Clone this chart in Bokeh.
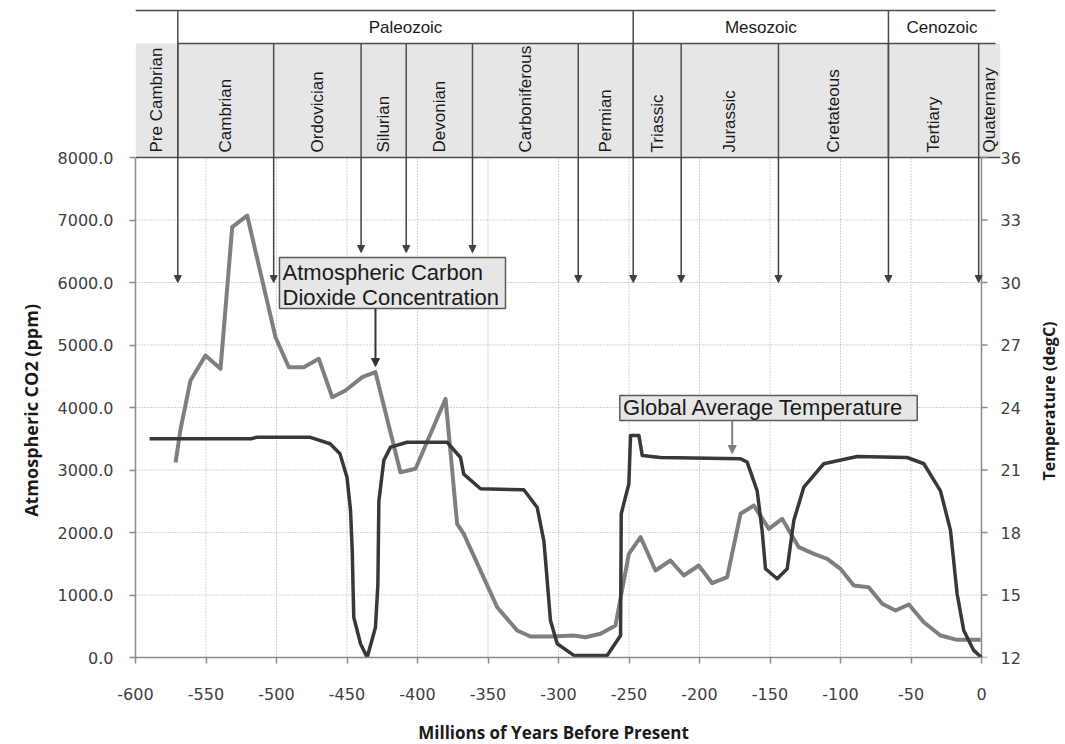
import math
from bokeh.plotting import figure
from bokeh.models import (Range1d, LinearAxis, FixedTicker, PrintfTickFormatter,
                          ColumnDataSource, Arrow, NormalHead)
from bokeh.core.properties import value
from bokeh.embed import file_html
from bokeh.resources import INLINE

# ---------------- data ----------------
co2_x = [-571.6, -568, -561, -550.4, -539.7, -531.4, -520.8, -500.7, -491.3, -480.6,
         -470, -460.5, -451.1, -439.2, -429.8, -412.1, -401.4, -380.1, -371.9, -367.2,
         -343.5, -329.3, -319.9, -305.7, -289.1, -280.9, -270.2, -259.6, -250.1, -241.8,
         -231.2, -220.6, -211.1, -200.5, -191, -180.4, -170.9, -161.5, -150.8, -141.4,
         -129.6, -118.9, -109.4, -100, -90.6, -80, -70.4, -61, -51.5, -40.9,
         -29.1, -17.3, -0.6]
co2_ppm = [3120, 3659, 4432, 4832, 4619, 6885, 7072, 5125, 4645, 4645,
           4779, 4165, 4272, 4485, 4565, 2965, 3019, 4139, 2139, 1979,
           805, 432, 336, 336, 352, 325, 379, 512, 1659, 1925,
           1392, 1552, 1312, 1472, 1189, 1285, 2299, 2432, 2059, 2219,
           1765, 1659, 1579, 1419, 1152, 1125, 859, 752, 848, 565,
           352, 283, 283]

temp_x = [-590, -518, -514, -476, -462, -455, -450, -447.5, -446.3, -445.2,
          -440.4, -435.7, -429.8, -428.1, -427.4, -423.9, -419.1, -407.3, -378.9, -369.5,
          -367.2, -355.3, -324.6, -315.1, -310.4, -309.2, -305.7, -300.9, -289.1, -265.5,
          -256, -255.5, -250.1, -248.9, -243, -240.6, -227.7, -170.9, -166.2, -159.1,
          -155.6, -153.2, -144.9, -137.8, -133.1, -126, -111.9, -88.2, -52.7, -40.9,
          -29.1, -22, -17.3, -12.6, -5.5, 0]
temp_c = [22.5, 22.5, 22.57, 22.57, 22.26, 21.78, 20.65, 19.06, 17.14, 13.93,
          12.66, 12.0, 13.45, 15.5, 19.5, 21.46, 22.1, 22.33, 22.33, 21.6,
          20.8, 20.1, 20.05, 19.2, 17.6, 16.66, 13.78, 12.66, 12.1, 12.1,
          13.06, 18.9, 20.34, 22.66, 22.66, 21.7, 21.6, 21.54, 21.38, 20.0,
          18.1, 16.26, 15.78, 16.26, 18.58, 20.18, 21.3, 21.65, 21.6, 21.3,
          20.0, 18.1, 15.06, 13.3, 12.34, 12.0]

era_names = ["Paleozoic", "Mesozoic", "Cenozoic"]
era_starts = [-570, -247, -66]

period_names = ["Pre Cambrian", "Cambrian", "Ordovician", "Silurian", "Devonian",
                "Carboniferous", "Permian", "Triassic", "Jurassic", "Cretateous",
                "Tertiary", "Quaternary"]
period_starts = [-600, -570, -502, -440, -408, -361, -286, -247, -213, -144, -66, -2]
arrow_ends = [6000, 6000, 6480, 6480, 6480, 6000, 6000, 6000, 6000, 6000, 6000]

x_ticks = list(range(-600, 1, 50))
co2_ticks = list(range(0, 8001, 1000))
temp_ticks = list(range(12, 37, 3))

x_title = "Millions of Years Before Present"
y_title = "Atmospheric CO2 (ppm)"
y2_title = "Temperature (degC)"

# ---------------- layout constants ----------------
PX = 846 / 600.0                 # screen pixels per million years
X0 = -600                        # frame left edge = CO2 axis
X1 = X0 + 865 / PX               # frame right edge (header overhangs the plot)
HDR_RIGHT = (995 - 135) / PX - 600
PPM_PER_PX = 16.0
Y_TOP = 657 * PPM_PER_PX         # frame top (canvas top)
T_TOP = 12 + 24 * 657 / 500.0
X_TITLE_AT = -303.5              # title anchors along their axes
Y_TITLE_AT = 5656
Y2_TITLE_AT = 20.5


def yv(py):
    """ppm value at a given screen row (layout helper for header/annotations)."""
    return (657 - py) * PPM_PER_PX


LINE_DARK = "#4d4d4d"
AX_GRAY = "#8c8c8c"
LBL = "#404040"

p = figure(frame_width=865, frame_height=657,
           x_range=Range1d(X0, X1), y_range=Range1d(0, Y_TOP),
           toolbar_location=None, output_backend="svg",
           min_border_left=135, min_border_right=65, min_border_top=0, min_border_bottom=87,
           outline_line_color=None)
p.extra_y_ranges = {"temp": Range1d(12, T_TOP)}
p.grid.visible = False

# ---------------- header ----------------
p.quad(left=[period_starts[0]], right=[X1], bottom=[yv(157)], top=[yv(43)],
       fill_color="#e6e6e6", line_color=None)

hx0 = [X0, era_starts[0], X0]
hx1 = [HDR_RIGHT, HDR_RIGHT, X1]
hy = [yv(10), yv(43), yv(157)]
p.segment(x0=hx0, y0=hy, x1=hx1, y1=hy, line_color=LINE_DARK, line_width=1.5)
nb = len(period_starts) - 1
p.segment(x0=period_starts[1:], y0=[yv(157)] * nb, x1=period_starts[1:], y1=[yv(43)] * nb,
          line_color=LINE_DARK, line_width=1.5)
p.segment(x0=era_starts, y0=[yv(157)] * 3, x1=era_starts, y1=[yv(10)] * 3,
          line_color=LINE_DARK, line_width=1.5)

era_ends = era_starts[1:] + [HDR_RIGHT]
era_mid = [(a + b) / 2 for a, b in zip(era_starts, era_ends)]
p.text(x=era_mid, y=[yv(26.5)] * 3, text=era_names, text_align="center",
       text_baseline="middle", text_font=value("Liberation Sans"),
       text_font_size="17px", text_color="#1a1a1a")

period_ends = period_starts[1:] + [X1]
period_mid = [(a + b) / 2 for a, b in zip(period_starts, period_ends)]
p.text(x=period_mid, y=[yv(152)] * len(period_mid), text=period_names, angle=math.pi / 2,
       text_align="left", text_baseline="middle", text_font=value("Liberation Sans"),
       text_font_size="17px", text_color="#1a1a1a")

# ---------------- grid (only inside the plotting area) ----------------
gx = x_ticks[1:-1]
p.segment(x0=gx, y0=[0] * len(gx), x1=gx, y1=[8000] * len(gx),
          line_color="#a6a6a6", line_width=1, line_dash="1 2")
gy = co2_ticks[1:-1]
p.segment(x0=[-600] * len(gy), y0=gy, x1=[0] * len(gy), y1=gy,
          line_color="#a6a6a6", line_width=1, line_dash="1 2")

# right axis line and its tick marks (the plot ends inside the frame)
p.segment(x0=[0], y0=[0], x1=[0], y1=[8000], line_color=AX_GRAY, line_width=1.5)
p.segment(x0=[0] * len(temp_ticks), y0=temp_ticks, x1=[6 / PX] * len(temp_ticks),
          y1=temp_ticks, y_range_name="temp", line_color=AX_GRAY, line_width=1.5)

# ---------------- axes ----------------
xa = p.xaxis[0]
xa.ticker = FixedTicker(ticks=x_ticks)
xa.bounds = (-600, 0)
xa.major_label_overrides = {t: str(t) for t in x_ticks}
xa.major_label_standoff = 24

ya = p.yaxis[0]
ya.ticker = FixedTicker(ticks=co2_ticks)
ya.bounds = (0, 8000)
ya.formatter = PrintfTickFormatter(format="%.1f")
ya.major_label_standoff = 16

ra = LinearAxis(y_range_name="temp", ticker=FixedTicker(ticks=temp_ticks), bounds=(12, 36))
ra.axis_line_color = None
ra.major_tick_line_color = None
ra.major_tick_in = 0
ra.major_tick_out = 0
ra.major_label_standoff = 0
p.add_layout(ra, "right")

for ax in [xa, ya]:
    ax.axis_line_color = AX_GRAY
    ax.axis_line_width = 1.5
    ax.major_tick_line_color = AX_GRAY
    ax.major_tick_line_width = 1.5
    ax.major_tick_out = 6
    ax.major_tick_in = 0

for ax in [xa, ya, ra]:
    ax.minor_tick_line_color = None
    ax.major_label_text_font = "DejaVu Sans"
    ax.major_label_text_font_size = "16px"
    ax.major_label_text_color = LBL


def title_axis(tick, text, size, standoff, orient, **kw):
    ax = LinearAxis(ticker=FixedTicker(ticks=[tick]), major_label_overrides={tick: text},
                    major_label_orientation=orient, axis_line_color=None,
                    major_tick_line_color=None, minor_tick_line_color=None,
                    major_tick_in=0, major_tick_out=0, major_label_standoff=standoff,
                    major_label_text_font="Open Sans", major_label_text_font_style="bold",
                    major_label_text_font_size=size, major_label_text_color="#1a1a1a", **kw)
    return ax


p.add_layout(title_axis(X_TITLE_AT, x_title, "17px", 18, "horizontal"), "below")
p.add_layout(title_axis(Y_TITLE_AT, y_title, "18px", 24, math.pi / 2), "left")
p.add_layout(title_axis(Y2_TITLE_AT, y2_title, "16px", 26, math.pi / 2,
                        y_range_name="temp"), "right")

# ---------------- period boundary arrows ----------------
arr_src = ColumnDataSource(dict(x=period_starts[1:], y0=[8000] * nb, y1=arrow_ends))
p.add_layout(Arrow(x_start="x", y_start="y0", x_end="x", y_end="y1", source=arr_src,
                   line_color="#404040", line_width=1.5,
                   end=NormalHead(size=7, fill_color="#404040", line_color="#404040",
                                  line_width=1)))

# ---------------- data lines ----------------
p.line(co2_x, co2_ppm, line_color="#7f7f7f", line_width=4, line_join="round")
p.line(temp_x, temp_c, y_range_name="temp", line_color="#383838", line_width=3.5,
       line_join="round")

# ---------------- callout boxes ----------------
p.quad(left=[-497.9, -256.5], right=[-337.6, -45.6], bottom=[yv(308), yv(420)],
       top=[yv(257), yv(395)],
       fill_color="#e6e6e6", line_color="#595959", line_width=1.5)
p.text(x=[-495.7, -495.7, -254.2], y=[yv(271.7), yv(297.3), yv(407)],
       text=["Atmospheric Carbon", "Dioxide Concentration", "Global Average Temperature"],
       text_align="left", text_baseline="middle", text_font=value("Liberation Sans"),
       text_font_size="22px", text_color="#1a1a1a")
p.add_layout(Arrow(x_start=-429.8, y_start=yv(308), x_end=-429.8, y_end=yv(366),
                   line_color="#333333", line_width=2,
                   end=NormalHead(size=8, fill_color="#333333", line_color="#333333",
                                  line_width=1)))
p.add_layout(Arrow(x_start=-176.8, y_start=yv(420), x_end=-176.8, y_end=yv(453),
                   line_color="#808080", line_width=2,
                   end=NormalHead(size=8, fill_color="#808080", line_color="#808080",
                                  line_width=1)))

open("out.html", "w").write(file_html(p, INLINE))
